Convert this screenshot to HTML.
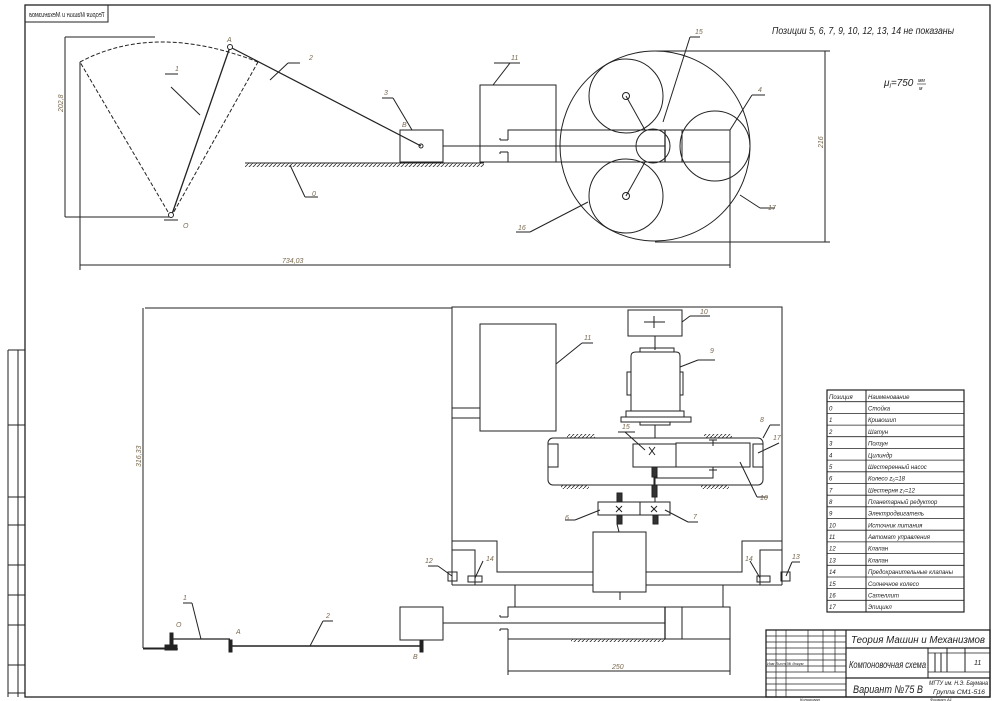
<!DOCTYPE html>
<html><head><meta charset="utf-8"><style>
html,body{margin:0;padding:0;background:#fff;}
svg{display:block;}
text{font-family:"Liberation Sans","DejaVu Sans",sans-serif;font-style:italic;fill:#222;}
.lb{fill:#7a6a50;font-size:7px;}
</style></head><body>
<svg width="994" height="701" viewBox="0 0 994 701" xmlns="http://www.w3.org/2000/svg">
<defs>
<pattern id="h" width="4" height="4" patternUnits="userSpaceOnUse"><path d="M0 4L4 0" stroke="#333" stroke-width="0.8"/></pattern>
</defs>
<rect width="994" height="701" fill="#fff"/>
<g fill="none" stroke="#222" stroke-width="1">
<rect x="25" y="5" width="965" height="692" stroke-width="1.3"/>
<rect x="25" y="5" width="83" height="17"/>
<line x1="8" y1="350" x2="8" y2="697"/>
<line x1="18" y1="350" x2="18" y2="697"/>
<line x1="8" y1="350" x2="25" y2="350"/><line x1="8" y1="425" x2="25" y2="425"/><line x1="8" y1="497" x2="25" y2="497"/>
<line x1="8" y1="525" x2="25" y2="525"/><line x1="8" y1="565" x2="25" y2="565"/><line x1="8" y1="595" x2="25" y2="595"/><line x1="8" y1="625" x2="25" y2="625"/><line x1="8" y1="665" x2="25" y2="665"/><line x1="8" y1="693" x2="25" y2="693"/>

<line x1="65" y1="37" x2="155" y2="37"/>
<line x1="65" y1="37" x2="65" y2="217"/>
<line x1="65" y1="217" x2="171" y2="217"/>
<line x1="80" y1="62" x2="80" y2="270"/>
<path d="M80 62 Q155 22 258 62" stroke-dasharray="4 2"/>
<line x1="171" y1="217" x2="80" y2="62" stroke-dasharray="4 2"/>
<line x1="171" y1="217" x2="258" y2="62" stroke-dasharray="4 2"/>
<line x1="171" y1="217" x2="230" y2="47" stroke-width="1.3"/>
<line x1="230" y1="47" x2="421" y2="146" stroke-width="1.2"/>
<circle cx="230" cy="47" r="2.5" fill="#fff"/>
<circle cx="171" cy="215" r="2.5" fill="#fff"/>
<line x1="164" y1="220" x2="178" y2="220"/>
<line x1="171" y1="87" x2="200" y2="115"/><line x1="165" y1="74" x2="178" y2="74"/>
<line x1="288" y1="63" x2="300" y2="63"/><line x1="288" y1="63" x2="270" y2="80"/>
<line x1="245" y1="163" x2="484" y2="163"/>
<rect x="245" y="163" width="239" height="4" fill="url(#h)" stroke="none"/>
<line x1="290" y1="165" x2="305" y2="197"/><line x1="305" y1="197" x2="318" y2="197"/>
<rect x="400" y="130" width="43" height="32"/>
<circle cx="421" cy="146" r="2"/>
<line x1="382" y1="98" x2="393" y2="98"/><line x1="393" y1="98" x2="412" y2="130"/>
<line x1="443" y1="146" x2="665" y2="146"/>
<rect x="480" y="85" width="76" height="77"/>
<line x1="494" y1="63" x2="520" y2="63"/><line x1="510" y1="63" x2="493" y2="85"/>
<polyline points="508,140 508,130 730,130 730,162 508,162 508,152"/>
<path d="M500 140 V138 M500 140 H508 M500 152 V154 M500 152 H508"/>
<line x1="665" y1="130" x2="665" y2="162" stroke-width="1.3"/>
<line x1="682" y1="130" x2="682" y2="162"/>
<line x1="730" y1="130" x2="730" y2="268"/>
<circle cx="655" cy="146" r="95"/>
<circle cx="626" cy="96" r="37"/>
<circle cx="626" cy="196" r="37"/>
<circle cx="653" cy="146" r="17"/>
<circle cx="715" cy="146" r="35"/>
<circle cx="626" cy="96" r="3.5" fill="#fff"/>
<circle cx="626" cy="196" r="3.5" fill="#fff"/>
<line x1="626" y1="96" x2="645" y2="130"/><line x1="626" y1="196" x2="645" y2="162"/>
<line x1="655" y1="51" x2="830" y2="51"/><line x1="655" y1="242" x2="830" y2="242"/>
<line x1="825" y1="51" x2="825" y2="242"/>
<line x1="80" y1="265" x2="730" y2="265"/>
<line x1="690" y1="37" x2="700" y2="37"/><line x1="690" y1="37" x2="663" y2="122"/>
<line x1="730" y1="130" x2="752" y2="95"/><line x1="752" y1="95" x2="765" y2="95"/>
<line x1="740" y1="195" x2="760" y2="208"/><line x1="760" y1="208" x2="775" y2="208"/>
<line x1="588" y1="202" x2="530" y2="232"/><line x1="530" y1="232" x2="516" y2="232"/>

<line x1="145" y1="308" x2="452" y2="308"/>
<line x1="143" y1="308" x2="143" y2="648"/>
<line x1="143" y1="648" x2="170" y2="648"/>
<polyline points="452,585 452,307 782,307 782,585"/>
<rect x="480" y="324" width="76" height="107"/>
<line x1="452" y1="408" x2="480" y2="408"/><line x1="452" y1="418" x2="480" y2="418"/>
<line x1="556" y1="364" x2="582" y2="343"/><line x1="582" y1="343" x2="593" y2="343"/>
<rect x="628" y="310" width="54" height="26"/>
<line x1="644" y1="322" x2="665" y2="322"/><line x1="654" y1="316" x2="654" y2="328"/>
<line x1="682" y1="322" x2="690" y2="316"/><line x1="690" y1="316" x2="710" y2="316"/>
<line x1="655" y1="336" x2="655" y2="350"/>
<rect x="640" y="348" width="34" height="4"/>
<path d="M631 356 Q631 352 636 352 H676 Q680 352 680 356 V411 H631 Z"/>
<rect x="627" y="372" width="4" height="23"/><rect x="680" y="372" width="3" height="23"/>
<rect x="626" y="411" width="58" height="6"/>
<rect x="621" y="417" width="70" height="5"/>
<rect x="640" y="422" width="30" height="3"/>
<line x1="680" y1="367" x2="698" y2="360"/><line x1="698" y1="360" x2="715" y2="360"/>
<line x1="655" y1="425" x2="655" y2="438"/>
<rect x="548" y="438" width="215" height="47" rx="5"/>
<rect x="548" y="444" width="10" height="23"/>
<rect x="753" y="444" width="10" height="23"/>
<rect x="633" y="444" width="43" height="23"/>
<rect x="676" y="443" width="74" height="24"/>
<line x1="713" y1="440" x2="713" y2="446"/><line x1="709" y1="440" x2="717" y2="440"/>
<polyline points="654,485 654,478 713,478 713,467"/><line x1="709" y1="470" x2="717" y2="470"/>
<rect x="567" y="434" width="28" height="4" fill="url(#h)" stroke="none"/>
<rect x="704" y="434" width="28" height="4" fill="url(#h)" stroke="none"/>
<rect x="561" y="485" width="28" height="4" fill="url(#h)" stroke="none"/>
<rect x="701" y="485" width="28" height="4" fill="url(#h)" stroke="none"/>
<line x1="618" y1="432" x2="635" y2="432"/><line x1="625" y1="432" x2="645" y2="450"/>
<line x1="763" y1="438" x2="770" y2="425"/><line x1="770" y1="425" x2="780" y2="425"/>
<line x1="758" y1="453" x2="779" y2="443"/>
<line x1="740" y1="462" x2="757" y2="497"/><line x1="757" y1="497" x2="768" y2="497"/>
<path d="M649 447 L655 455 M655 447 L649 455"/>
<line x1="655" y1="467" x2="655" y2="502"/>
<rect x="652" y="467" width="5" height="10" fill="#333"/>
<rect x="652" y="485" width="5" height="12" fill="#333"/>
<rect x="598" y="502" width="42" height="13"/>
<rect x="640" y="502" width="30" height="13"/>
<rect x="617" y="493" width="5" height="9" fill="#333"/><rect x="617" y="515" width="5" height="9" fill="#333"/>
<rect x="653" y="515" width="5" height="9" fill="#333"/>
<line x1="617" y1="524" x2="619" y2="532"/>
<path d="M616 506 L622 512 M622 506 L616 512 M651 506 L657 512 M657 506 L651 512"/>
<line x1="600" y1="510" x2="575" y2="520"/><line x1="575" y1="520" x2="565" y2="520"/>
<line x1="665" y1="510" x2="688" y2="522"/><line x1="688" y1="522" x2="698" y2="522"/>
<rect x="593" y="532" width="53" height="60"/>
<polyline points="452,541 497,541 497,572 593,572"/>
<polyline points="452,550 475,550 475,585"/>
<line x1="452" y1="585" x2="593" y2="585"/><line x1="646" y1="585" x2="782" y2="585"/>
<polyline points="782,541 742,541 742,572 646,572"/>
<polyline points="782,550 760,550 760,585"/>
<rect x="448" y="572" width="9" height="9"/><rect x="468" y="576" width="14" height="6"/>
<rect x="781" y="572" width="9" height="9"/><rect x="757" y="576" width="13" height="6"/>
<line x1="428" y1="566" x2="438" y2="566"/><line x1="438" y1="566" x2="452" y2="576"/>
<line x1="483" y1="561" x2="475" y2="578"/>
<line x1="750" y1="561" x2="760" y2="578"/>
<line x1="800" y1="562" x2="792" y2="562"/><line x1="792" y1="562" x2="786" y2="576"/>
<line x1="515" y1="585" x2="515" y2="607"/><line x1="723" y1="585" x2="723" y2="607"/>
<line x1="620" y1="592" x2="620" y2="600"/>
<polyline points="508,617 508,607 730,607 730,639 508,639 508,629"/>
<path d="M500 617 V615 M500 617 H508 M500 629 V631 M500 629 H508"/>
<line x1="665" y1="607" x2="665" y2="639" stroke-width="1.3"/>
<line x1="682" y1="607" x2="682" y2="639"/>
<rect x="571" y="639" width="94" height="3" fill="url(#h)" stroke="none"/>
<line x1="443" y1="623" x2="665" y2="623"/>
<rect x="400" y="607" width="43" height="33"/>
<line x1="508" y1="639" x2="508" y2="675"/><line x1="730" y1="639" x2="730" y2="675"/>
<line x1="508" y1="671" x2="730" y2="671"/>
<line x1="173" y1="639" x2="230" y2="639" stroke-width="1.2"/>
<line x1="230" y1="646" x2="421" y2="646" stroke-width="1.5"/>
<line x1="143" y1="649" x2="178" y2="649"/>
<rect x="165" y="645" width="12" height="5" fill="#222"/>
<rect x="170" y="633" width="3" height="13" fill="#222"/>
<rect x="229" y="640" width="3" height="12" fill="#222"/>
<rect x="420" y="640" width="3" height="12" fill="#222"/>
<line x1="183" y1="603" x2="192" y2="603"/><line x1="192" y1="603" x2="201" y2="639"/>
<line x1="333" y1="621" x2="323" y2="621"/><line x1="323" y1="621" x2="310" y2="646"/>

<rect x="827" y="390" width="137" height="222" stroke-width="1.2"/>
<line x1="866" y1="390" x2="866" y2="612"/>
<g stroke-width="0.8">
<line x1="827" y1="401.7" x2="964" y2="401.7"/><line x1="827" y1="413.4" x2="964" y2="413.4"/><line x1="827" y1="425.1" x2="964" y2="425.1"/>
<line x1="827" y1="436.7" x2="964" y2="436.7"/><line x1="827" y1="448.4" x2="964" y2="448.4"/><line x1="827" y1="460.1" x2="964" y2="460.1"/>
<line x1="827" y1="471.8" x2="964" y2="471.8"/><line x1="827" y1="483.5" x2="964" y2="483.5"/><line x1="827" y1="495.2" x2="964" y2="495.2"/>
<line x1="827" y1="506.8" x2="964" y2="506.8"/><line x1="827" y1="518.5" x2="964" y2="518.5"/><line x1="827" y1="530.2" x2="964" y2="530.2"/>
<line x1="827" y1="541.9" x2="964" y2="541.9"/><line x1="827" y1="553.6" x2="964" y2="553.6"/><line x1="827" y1="565.3" x2="964" y2="565.3"/>
<line x1="827" y1="577" x2="964" y2="577"/><line x1="827" y1="588.6" x2="964" y2="588.6"/><line x1="827" y1="600.3" x2="964" y2="600.3"/>
</g>
<rect x="766" y="630" width="224" height="67" stroke-width="1.3"/>
<line x1="846" y1="630" x2="846" y2="697" stroke-width="1.2"/>
<line x1="846" y1="648" x2="990" y2="648" stroke-width="1.2"/>
<line x1="846" y1="678" x2="990" y2="678" stroke-width="1.2"/>
<line x1="928" y1="648" x2="928" y2="678"/>
<line x1="928" y1="653" x2="990" y2="653" stroke-width="0.7"/>
<line x1="928" y1="672" x2="990" y2="672" stroke-width="0.7"/>
<line x1="935" y1="653" x2="935" y2="672"/><line x1="941" y1="653" x2="941" y2="672"/><line x1="947" y1="648" x2="947" y2="672"/>
<line x1="965" y1="648" x2="965" y2="672"/>
<g stroke-width="0.7">
<line x1="776" y1="630" x2="776" y2="697"/><line x1="786" y1="630" x2="786" y2="697"/><line x1="808" y1="630" x2="808" y2="672"/>
<line x1="823" y1="630" x2="823" y2="672"/><line x1="835" y1="630" x2="835" y2="672"/>
<line x1="766" y1="636" x2="846" y2="636"/><line x1="766" y1="642" x2="846" y2="642"/><line x1="766" y1="648" x2="846" y2="648"/>
<line x1="766" y1="654" x2="846" y2="654"/><line x1="766" y1="660" x2="846" y2="660"/><line x1="766" y1="666" x2="846" y2="666"/>
<line x1="766" y1="672" x2="846" y2="672"/><line x1="766" y1="678" x2="846" y2="678"/><line x1="766" y1="684" x2="846" y2="684"/><line x1="766" y1="690" x2="846" y2="690"/>
</g>
</g>

<text x="-105" y="17" font-size="7" transform="scale(-1,1)" textLength="76" lengthAdjust="spacingAndGlyphs">Теория Машин и Механизмов</text>
<text x="772" y="34" font-size="10" textLength="182" lengthAdjust="spacingAndGlyphs">Позиции 5, 6, 7, 9, 10, 12, 13, 14 не показаны</text>
<text x="884" y="86" font-size="10">μ<tspan font-size="6" dy="2">l</tspan><tspan dy="-2">=750</tspan></text>
<text x="918" y="82" font-size="5">мм</text><line x1="917" y1="84" x2="926" y2="84" stroke="#222" stroke-width="0.6"/><text x="919" y="90" font-size="5">м</text>
<text class="lb" x="227" y="42">A</text>
<text class="lb" x="183" y="228">O</text>
<text class="lb" x="175" y="71">1</text>
<text class="lb" x="309" y="60">2</text>
<text class="lb" x="384" y="95">3</text>
<text class="lb" x="312" y="196">0</text>
<text class="lb" x="402" y="127">B</text>
<text class="lb" x="511" y="60">11</text>
<text class="lb" x="695" y="34">15</text>
<text class="lb" x="758" y="92">4</text>
<text class="lb" x="768" y="210">17</text>
<text class="lb" x="518" y="230">16</text>
<text class="lb" x="63" y="112" transform="rotate(-90 63 112)">202,8</text>
<text class="lb" x="823" y="148" transform="rotate(-90 823 148)">216</text>
<text class="lb" x="282" y="263">734,03</text>
<text class="lb" x="141" y="467" transform="rotate(-90 141 467)">316,33</text>
<text class="lb" x="584" y="340">11</text>
<text class="lb" x="700" y="314">10</text>
<text class="lb" x="710" y="353">9</text>
<text class="lb" x="760" y="422">8</text>
<text class="lb" x="622" y="429">15</text>
<text class="lb" x="773" y="440">17</text>
<text class="lb" x="760" y="500">16</text>
<text class="lb" x="565" y="520">6</text>
<text class="lb" x="693" y="519">7</text>
<text class="lb" x="425" y="563">12</text>
<text class="lb" x="486" y="561">14</text>
<text class="lb" x="745" y="561">14</text>
<text class="lb" x="792" y="559">13</text>
<text class="lb" x="183" y="600">1</text>
<text class="lb" x="176" y="627">O</text>
<text class="lb" x="236" y="634">A</text>
<text class="lb" x="326" y="618">2</text>
<text class="lb" x="413" y="659">B</text>
<text class="lb" x="612" y="669">250</text>
<g font-size="6">
<text x="829" y="399">Позиция</text><text x="868" y="399">Наименование</text>
<text x="829" y="410.5">0</text><text x="868" y="410.5">Стойка</text>
<text x="829" y="422.2">1</text><text x="868" y="422.2">Кривошип</text>
<text x="829" y="433.9">2</text><text x="868" y="433.9">Шатун</text>
<text x="829" y="445.6">3</text><text x="868" y="445.6">Ползун</text>
<text x="829" y="457.3">4</text><text x="868" y="457.3">Цилиндр</text>
<text x="829" y="469">5</text><text x="868" y="469">Шестеренный насос</text>
<text x="829" y="480.6">6</text><text x="868" y="480.6">Колесо z₆=18</text>
<text x="829" y="492.3">7</text><text x="868" y="492.3">Шестерня z₇=12</text>
<text x="829" y="504">8</text><text x="868" y="504">Планетарный редуктор</text>
<text x="829" y="515.7">9</text><text x="868" y="515.7">Электродвигатель</text>
<text x="829" y="527.4">10</text><text x="868" y="527.4">Источник питания</text>
<text x="829" y="539.1">11</text><text x="868" y="539.1">Автомат управления</text>
<text x="829" y="550.7">12</text><text x="868" y="550.7">Клапан</text>
<text x="829" y="562.4">13</text><text x="868" y="562.4">Клапан</text>
<text x="829" y="574.1">14</text><text x="868" y="574.1">Предохранительные клапаны</text>
<text x="829" y="585.8">15</text><text x="868" y="585.8">Солнечное колесо</text>
<text x="829" y="597.5">16</text><text x="868" y="597.5">Сателлит</text>
<text x="829" y="609.2">17</text><text x="868" y="609.2">Эпицикл</text>
</g>
<text x="851" y="643" font-size="10" textLength="134" lengthAdjust="spacingAndGlyphs">Теория Машин и Механизмов</text>
<text x="849" y="668" font-size="10.5" textLength="77" lengthAdjust="spacingAndGlyphs">Компоновочная схема</text>
<text x="853" y="693" font-size="11" textLength="70" lengthAdjust="spacingAndGlyphs">Вариант №75 В</text>
<text x="929" y="685" font-size="6.5" textLength="59" lengthAdjust="spacingAndGlyphs">МГТУ им. Н.Э. Баумана</text>
<text x="933" y="694" font-size="6.5" textLength="52" lengthAdjust="spacingAndGlyphs">Группа СМ1-516</text>
<text x="974" y="665" font-size="7">11</text>
<text x="767" y="665" font-size="4">Изм Лист  № докум</text>
<text x="800" y="701" font-size="4">Копировал</text>
<text x="930" y="701" font-size="4">Формат  А1</text>
</svg>
</body></html>
